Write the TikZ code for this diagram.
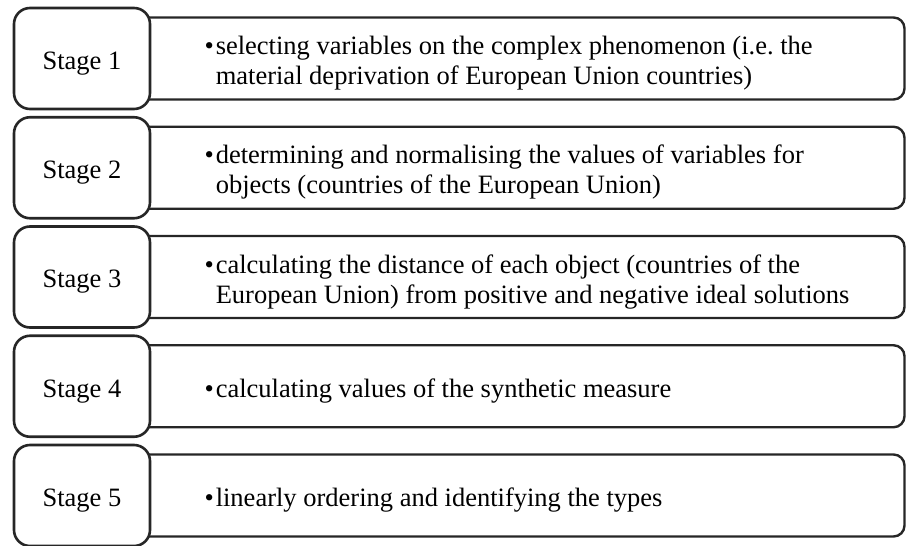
\documentclass[tikz,border=0pt]{standalone}
\usepackage{fontspec}
\setmainfont{Liberation Serif}
\usetikzlibrary{calc}

\begin{document}
\begin{tikzpicture}[x=1pt,y=1pt,
    every node/.style={font=\fontsize{26.5}{30}\selectfont},
    taskbox/.style={draw=black!85,line width=2.4pt,rounded corners=11pt,
      minimum width=773pt,minimum height=82pt,inner sep=0pt},
    stagebox/.style={draw=black!85,line width=2.6pt,rounded corners=16pt,fill=white,
      minimum width=136pt,minimum height=101pt,inner sep=0pt},
    tasktext/.style={anchor=west,inner sep=0pt,align=left}]
  \useasboundingbox (0,0) rectangle (908,-546);

  %% Long boxes first, the stage boxes sit on their left ends
  \foreach \i in {1,...,5}
  {
    \node[taskbox] (TK\i) at (518,{-58.5-109.25*(\i-1)}) {};
  }

  %% Stage boxes with their labels
  \foreach \i in {1,...,5}
  {
    \node[stagebox] (ST\i) at (82,{-58.5-109.25*(\i-1)}) {};
    \node (SL\i) at ($(ST\i)+(0,-5)$) {Stage \i};
  }

  %% Bullet texts of the stages
  \foreach \i/\txt in {
    1/{selecting variables on the complex phenomenon (i.e.\ the\\material deprivation of European Union countries)},
    2/{determining and normalising the values of variables for\\objects (countries of the European Union)},
    3/{calculating the distance of each object (countries of the\\European Union) from positive and negative ideal solutions},
    4/{calculating values of the synthetic measure},
    5/{linearly ordering and identifying the types}}
  {
    \node[tasktext] (TX\i) at ($(TK\i.west)+(74,-5)$)
      {\textbullet\hspace{2pt}\begin{tabular}[t]{@{}l@{}}\txt\end{tabular}};
  }
\end{tikzpicture}
\end{document}
